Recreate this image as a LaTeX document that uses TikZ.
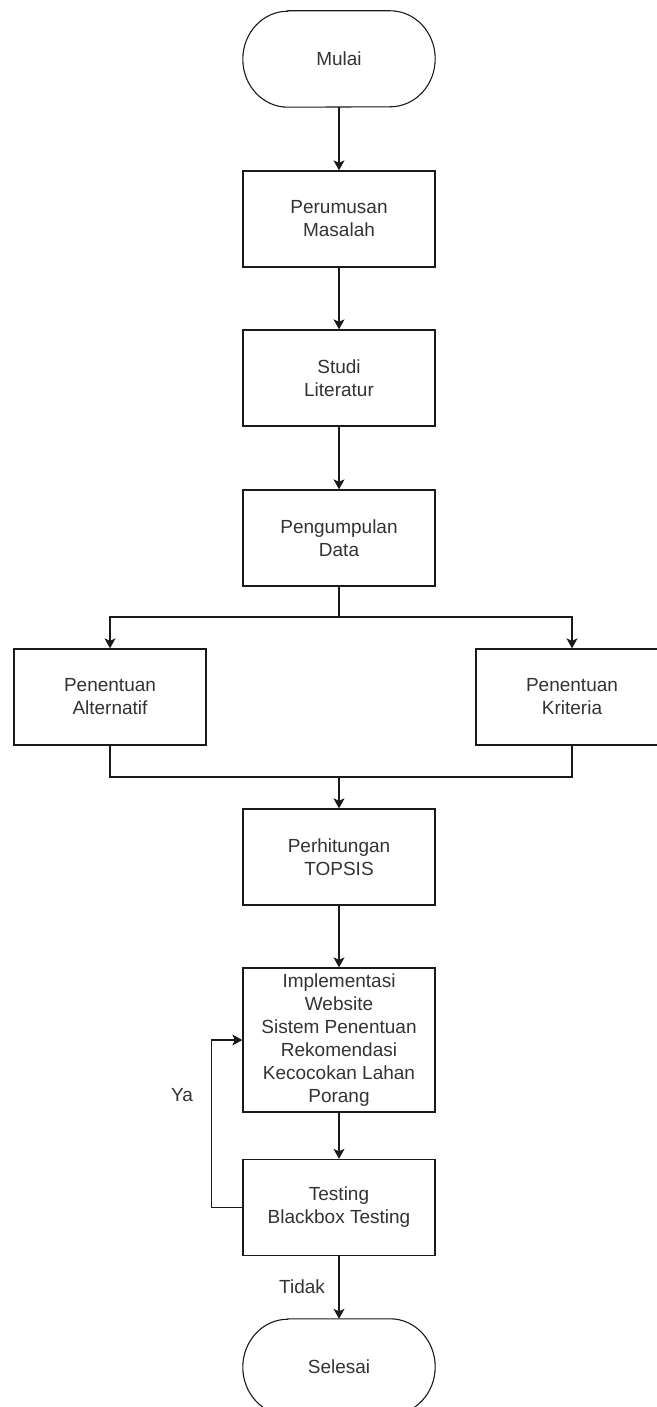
\documentclass[tikz,border=0pt]{standalone}
\usepackage{fontspec}
\setmainfont{Liberation Sans}
\usetikzlibrary{arrows.meta}
\definecolor{linegray}{HTML}{1A1A1A}
\definecolor{textgray}{HTML}{333333}
\begin{document}
\begin{tikzpicture}[x=1pt,y=1pt,
  txt/.style={font=\fontsize{19}{23}\selectfont, text=textgray},
  proc/.style={txt, draw=linegray, line width=1.3pt, fill=white,
    minimum width=192pt, minimum height=96pt, align=center, inner sep=0pt},
  term/.style={txt, minimum width=192pt, minimum height=96pt, align=center, inner sep=0pt},
  conn/.style={draw=linegray, line width=1.3pt},
  flow/.style={conn, -{Stealth[length=10pt,width=11pt,inset=2.5pt]}},
]
\useasboundingbox[fill=white] (0,0) rectangle (656,-1407);

% terminal outline: straight top and bottom, elliptical ends
\newcommand{\stadium}[1]{%
  \draw[conn, line width=1.1pt] ([xshift=45pt]#1.north west) -- ([xshift=-45pt]#1.north east)
    arc[start angle=90, end angle=-90, x radius=45pt, y radius=48pt]
    -- ([xshift=45pt]#1.south west)
    arc[start angle=270, end angle=90, x radius=45pt, y radius=48pt] -- cycle;}

% nodes
\node[term] (mulai) at (339,-59) {Mulai};
\stadium{mulai}
\node[proc] (perumusan) at (339,-219) {Perumusan\\Masalah};
\node[proc] (studi) at (339,-378) {Studi\\Literatur};
\node[proc] (pengumpulan) at (339,-538) {Pengumpulan\\Data};
\node[proc] (alternatif) at (110,-697) {Penentuan\\Alternatif};
\node[proc] (kriteria) at (572,-697) {Penentuan\\Kriteria};
\node[proc] (topsis) at (339,-857) {Perhitungan\\TOPSIS};
\node[proc, minimum height=144pt] (implementasi) at (339,-1040)
  {Implementasi\\Website\\Sistem Penentuan\\Rekomendasi\\Kecocokan Lahan\\Porang};
\node[proc] (testing) at (339,-1207.5) {Testing\\Blackbox Testing};
\node[term] (selesai) at (339,-1367) {Selesai};
\stadium{selesai}

\coordinate (split) at (339,-617);
\coordinate (merge) at (339,-777);

% connectors
\draw[flow] (mulai) -- (perumusan);
\draw[flow] (perumusan) -- (studi);
\draw[flow] (studi) -- (pengumpulan);
\draw[conn] (pengumpulan.south) -- (split);
\draw[flow] (split) -| (alternatif.north);
\draw[flow] (split) -| (kriteria.north);
\draw[conn] (alternatif.south) |- (merge);
\draw[conn] (kriteria.south) |- (merge);
\draw[flow] (merge) -- (topsis);
\draw[flow] (topsis) -- (implementasi);
\draw[flow] (implementasi) -- (testing);
\draw[flow] (testing.west) -- ++(-31,0) |- (implementasi.west);
\draw[flow] (testing) -- (selesai);

% branch labels
\node[txt] (ya) at (182,-1095) {Ya};
\node[txt] (tidak) at (302,-1287) {Tidak};
\end{tikzpicture}
\end{document}
